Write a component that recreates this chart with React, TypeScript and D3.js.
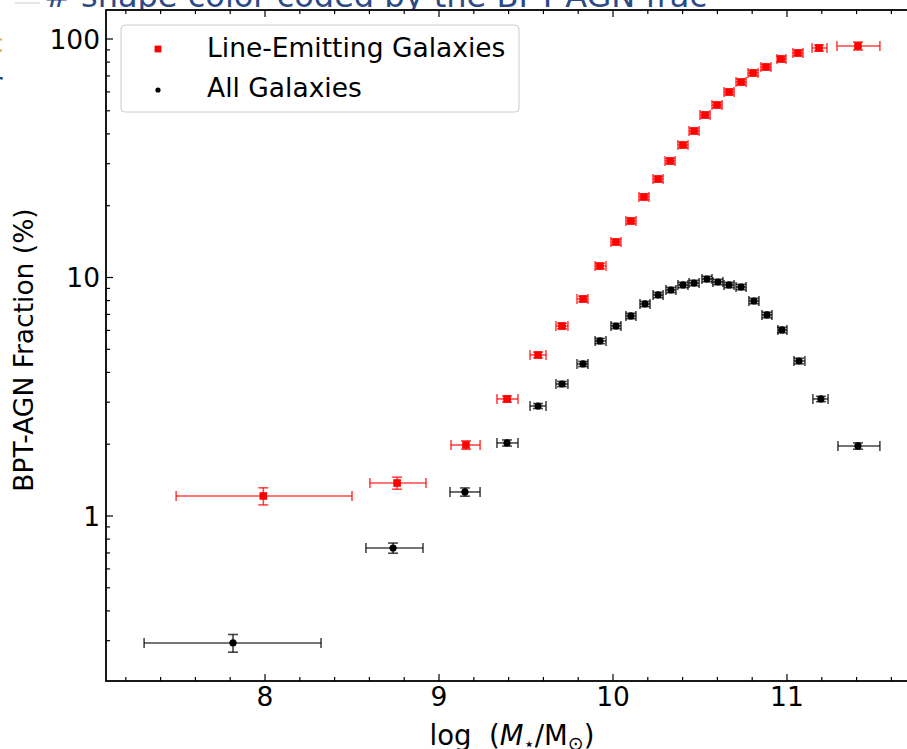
import React from "react";
import * as d3 from "d3";

// ---- Data ----
const lineMass = [7.99, 8.759, 9.155, 9.391, 9.569, 9.707, 9.828, 9.925, 10.017, 10.103, 10.178, 10.259, 10.328, 10.402, 10.466, 10.529, 10.598, 10.667, 10.736, 10.805, 10.879, 10.966, 11.063, 11.184, 11.408];
const lineMassLo = [7.489, 8.603, 9.069, 9.333, 9.523, 9.672, 9.793, 9.897, 9.988, 10.074, 10.149, 10.23, 10.299, 10.373, 10.437, 10.5, 10.569, 10.638, 10.707, 10.776, 10.85, 10.943, 11.034, 11.144, 11.287];
const lineMassHi = [8.5, 8.925, 9.236, 9.454, 9.615, 9.741, 9.856, 9.96, 10.046, 10.132, 10.207, 10.288, 10.357, 10.431, 10.495, 10.558, 10.627, 10.696, 10.765, 10.834, 10.908, 10.994, 11.092, 11.23, 11.534];
const lineFrac = [1.213, 1.375, 1.985, 3.095, 4.733, 6.262, 8.126, 11.17, 14.09, 17.26, 21.76, 25.88, 30.8, 35.94, 41.15, 48.01, 52.89, 59.95, 66.02, 72.02, 76.31, 82.45, 87.37, 91.69, 93.46];
const lineFracErr = [0.1, 0.08, 0.08, 0.09, 0.13, 0.17, 0.22, 0.3, 0.38, 0.46, 0.58, 0.7, 0.82, 0.96, 1.1, 1.3, 1.4, 1.6, 1.8, 1.9, 2.0, 2.2, 2.4, 2.6, 3.6];

const allMass = [7.816, 8.736, 9.149, 9.391, 9.569, 9.707, 9.828, 9.925, 10.017, 10.103, 10.184, 10.259, 10.333, 10.402, 10.466, 10.54, 10.603, 10.667, 10.736, 10.81, 10.885, 10.971, 11.069, 11.195, 11.408];
const allMassLo = [7.305, 8.58, 9.063, 9.333, 9.523, 9.672, 9.793, 9.897, 9.988, 10.074, 10.155, 10.23, 10.304, 10.373, 10.437, 10.511, 10.574, 10.638, 10.707, 10.781, 10.856, 10.948, 11.04, 11.149, 11.293];
const allMassHi = [8.322, 8.908, 9.236, 9.454, 9.615, 9.741, 9.856, 9.96, 10.046, 10.132, 10.213, 10.288, 10.362, 10.431, 10.495, 10.569, 10.632, 10.696, 10.765, 10.839, 10.914, 11.0, 11.103, 11.236, 11.534];
const allFrac = [0.2935, 0.734, 1.261, 2.024, 2.892, 3.577, 4.339, 5.418, 6.262, 6.897, 7.744, 8.447, 8.863, 9.303, 9.483, 9.856, 9.574, 9.303, 9.125, 7.97, 6.964, 6.025, 4.466, 3.095, 1.966];
const allFracErr = [0.025, 0.036, 0.05, 0.06, 0.07, 0.09, 0.11, 0.14, 0.16, 0.18, 0.2, 0.22, 0.23, 0.24, 0.25, 0.26, 0.25, 0.24, 0.24, 0.21, 0.19, 0.16, 0.12, 0.08, 0.06];

const xMajorTicks = [8, 9, 10, 11];
const xMinorTicks = [7.2, 7.4, 7.6, 7.8, 8.2, 8.4, 8.6, 8.8, 9.2, 9.4, 9.6, 9.8, 10.2, 10.4, 10.6, 10.8, 11.2, 11.4, 11.6];
const yMajorTicks = [1, 10, 100];
const yTickLabels = ["1", "10", "100"];
const yMinorTicks = [0.3, 0.4, 0.5, 0.6, 0.7, 0.8, 0.9, 2, 3, 4, 5, 6, 7, 8, 9, 20, 30, 40, 50, 60, 70, 80, 90];

const legendLabels = ["Line-Emitting Galaxies", "All Galaxies"];

// ---- Layout ----
const W = 907, H = 749;
const L = 106, T = 10, R = 918, B = 681;
const FONT = "DejaVu Sans, sans-serif";
const FS = 26.5;

const x = d3.scaleLinear().domain([7.086, 11.753]).range([L, R]);
const y = d3.scaleLog().domain([0.2033, 132.3]).range([B, T]);

type Series = { m: number[]; lo: number[]; hi: number[]; f: number[]; e: number[]; color: string; shape: "square" | "circle" };

const series: Series[] = [
  { m: allMass, lo: allMassLo, hi: allMassHi, f: allFrac, e: allFracErr, color: "#000000", shape: "circle" },
  { m: lineMass, lo: lineMassLo, hi: lineMassHi, f: lineFrac, e: lineFracErr, color: "#ff0000", shape: "square" },
];

const CAP = 5;

function ErrorPoints({ s }: { s: Series }) {
  return (
    <g>
      <g stroke={s.color} strokeOpacity={0.72} strokeWidth={1.6} fill="none">
        {s.m.map((m, i) => {
          const cx = x(m), cy = y(s.f[i]);
          const x0 = x(s.lo[i]), x1 = x(s.hi[i]);
          const y0 = y(s.f[i] - s.e[i]), y1 = y(s.f[i] + s.e[i]);
          return (
            <g key={i}>
              <line x1={x0} x2={x1} y1={cy} y2={cy} />
              <line x1={x0} x2={x0} y1={cy - CAP} y2={cy + CAP} />
              <line x1={x1} x2={x1} y1={cy - CAP} y2={cy + CAP} />
              <line x1={cx} x2={cx} y1={y0} y2={y1} />
              <line x1={cx - CAP} x2={cx + CAP} y1={y0} y2={y0} />
              <line x1={cx - CAP} x2={cx + CAP} y1={y1} y2={y1} />
            </g>
          );
        })}
      </g>
      <g fill={s.color}>
        {s.m.map((m, i) =>
          s.shape === "square" ? (
            <rect key={i} x={x(m) - 3.8} y={y(s.f[i]) - 3.8} width={7.6} height={7.6} />
          ) : (
            <circle key={i} cx={x(m)} cy={y(s.f[i])} r={3.6} />
          )
        )}
      </g>
    </g>
  );
}

export default function App() {
  return (
    <svg width={W} height={H} style={{ position: "absolute", left: 0, top: 0, background: "#fff" }} fontFamily={FONT}>
      <defs>
        <clipPath id="topclip"><rect x={0} y={0} width={W} height={9} /></clipPath>
      </defs>
      <rect x={0} y={0} width={W} height={H} fill="#fff" />
      {/* background fragments of the screenshot */}
      <g clipPath="url(#topclip)">
        <text x={44} y={7} fontSize={32} fill="#2c4a86" fontFamily={FONT}># shape color coded by the BPT-AGN frac</text>
      </g>
      <line x1={15} x2={40} y1={3} y2={3} stroke="#ccc" strokeWidth={1} />
      <text x={-9} y={93} fontSize={28} fill="#1f3d6e">r</text>
      <text x={-10} y={52} fontSize={24} fill="#d9a441">c</text>
      <text x={-11} y={716} fontSize={30} fill="#000">)</text>

      {/* ticks */}
      <g stroke="#000" strokeWidth={1.2}>
        {xMajorTicks.map((t) => (
          <g key={"xM" + t}>
            <line x1={x(t)} x2={x(t)} y1={B} y2={B - 7} />
            <line x1={x(t)} x2={x(t)} y1={T} y2={T + 7} />
          </g>
        ))}
        {xMinorTicks.map((t) => (
          <g key={"xm" + t}>
            <line x1={x(t)} x2={x(t)} y1={B} y2={B - 4} />
            <line x1={x(t)} x2={x(t)} y1={T} y2={T + 4} />
          </g>
        ))}
        {yMajorTicks.map((t) => (
          <g key={"yM" + t}>
            <line x1={L} x2={L + 7} y1={y(t)} y2={y(t)} />
            <line x1={R} x2={R - 7} y1={y(t)} y2={y(t)} />
          </g>
        ))}
        {yMinorTicks.map((t) => (
          <g key={"ym" + t}>
            <line x1={L} x2={L + 4} y1={y(t)} y2={y(t)} />
            <line x1={R} x2={R - 4} y1={y(t)} y2={y(t)} />
          </g>
        ))}
      </g>

      {/* frame */}
      <rect x={L} y={T} width={R - L} height={B - T} fill="none" stroke="#000" strokeWidth={1.8} />

      {/* tick labels */}
      <g fontSize={FS} fill="#000">
        {xMajorTicks.map((t) => (
          <text key={"xl" + t} x={x(t)} y={706} textAnchor="middle">{t}</text>
        ))}
        {yMajorTicks.map((t, i) => (
          <text key={"yl" + t} x={100} y={y(t)} dy="0.36em" textAnchor="end">{yTickLabels[i]}</text>
        ))}
      </g>

      {/* axis labels */}
      <text x={(L + R) / 2} y={745} textAnchor="middle" fontSize={FS + 1} fill="#000" style={{ whiteSpace: "pre" }}>
        <tspan>{"log  ("}</tspan>
        <tspan fontStyle="italic">M</tspan>
        <tspan fontSize={18} dy={5}>⋆</tspan>
        <tspan dy={-5}>/M</tspan>
        <tspan fontSize={19} dy={5}>⊙</tspan>
        <tspan dy={-5}>)</tspan>
      </text>
      <text transform={`translate(33, ${350}) rotate(-90)`} textAnchor="middle" fontSize={FS} fill="#000">BPT-AGN Fraction (%)</text>

      {/* data */}
      {series.map((s, i) => <ErrorPoints key={i} s={s} />)}

      {/* legend */}
      <rect x={121} y={25} width={398} height={87} rx={4} fill="#fff" fillOpacity={0.8} stroke="#cccccc" strokeWidth={1} />
      <rect x={158 - 3.4} y={49 - 3.4} width={6.8} height={6.8} fill="#ff0000" />
      <circle cx={158} cy={90} r={2.6} fill="#000" />
      <text x={207} y={57} fontSize={FS} fill="#000">{legendLabels[0]}</text>
      <text x={207} y={97} fontSize={FS} fill="#000">{legendLabels[1]}</text>
    </svg>
  );
}
